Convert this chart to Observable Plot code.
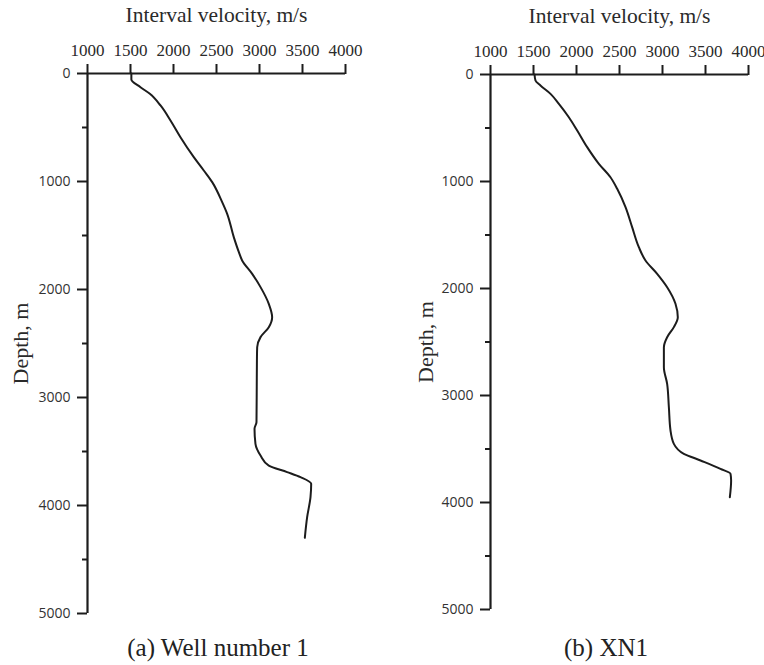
<!DOCTYPE html>
<html>
<head>
<meta charset="utf-8">
<script src="https://cdn.jsdelivr.net/npm/d3@7"></script>
<script src="https://cdn.jsdelivr.net/npm/@observablehq/plot@0.6"></script>
<style>
  html, body { margin: 0; padding: 0; background: #fff; }
  #wrap { position: relative; width: 764px; height: 665px; overflow: hidden; }
  .panel { position: absolute; top: 0; }
  .panel g[aria-label="x-axis tick label"] text { font-family: "Liberation Serif", "Times New Roman", serif; }
  .panel g[aria-label="y-axis tick label"] text { font-family: "Open Sans", "Noto Sans", sans-serif; }
  .cap { position: absolute; top: 634px; font-family: "Liberation Serif", "Times New Roman", serif; font-size: 25px; color: #222; white-space: nowrap; transform: translateX(-50%); }
</style>
</head>
<body>
<div id="wrap"></div>
<script>
// ---- data ----
const xTitle = "Interval velocity, m/s";
const yTitle = "Depth, m";
const xTicks = [1000, 1500, 2000, 2500, 3000, 3500, 4000];
const yTicks = [0, 1000, 2000, 3000, 4000, 5000];
const yMinorTicks = [500, 1500, 2500, 3500, 4500];
const captions = ["(a) Well number 1", "(b) XN1"];

const depth1 = [0, 55, 127, 188, 296, 435, 590, 775, 898, 1006, 1191, 1299, 1515, 1654, 1731, 1855, 1978, 2133, 2256, 2349, 2441, 2534, 2660, 2900, 3228, 3290, 3429, 3537, 3630, 3691, 3738, 3799, 3923, 4108, 4299];
const vel1   = [1510, 1510, 1616, 1725, 1849, 1965, 2081, 2236, 2352, 2450, 2566, 2624, 2701, 2760, 2798, 2915, 3012, 3108, 3147, 3108, 3012, 2973, 2970, 2968, 2965, 2942, 2953, 3012, 3108, 3321, 3477, 3601, 3593, 3554, 3527];

const depth2 = [0, 56, 103, 181, 274, 399, 523, 679, 835, 960, 1068, 1240, 1427, 1614, 1738, 1863, 1988, 2143, 2268, 2361, 2455, 2548, 2735, 2891, 3109, 3327, 3452, 3545, 3607, 3685, 3732, 3794, 3950];
const vel2   = [1512, 1523, 1581, 1698, 1795, 1911, 2008, 2124, 2260, 2395, 2473, 2570, 2647, 2725, 2802, 2938, 3054, 3151, 3178, 3132, 3054, 3016, 3016, 3054, 3074, 3093, 3132, 3248, 3442, 3674, 3791, 3798, 3783];

const ink = "#1c1c1c";
const serif = "'Liberation Serif', 'Times New Roman', serif";

function panel(depth, vel, m) {
  const data = depth.map((d, i) => ({d, v: vel[i]}));
  return Plot.plot({
    width: 382,
    height: 625,
    marginLeft: m.left,
    marginRight: m.right,
    marginTop: m.top,
    marginBottom: m.bottom,
    style: {background: "transparent", overflow: "visible", color: ink},
    x: {domain: [1000, 4000], axis: null},
    y: {domain: [0, 5000], reverse: true, axis: null},
    marks: [
      Plot.axisX({anchor: "top", ticks: xTicks, tickSize: 10, tickPadding: 8, tickFormat: d => String(d),
        fontSize: 17, strokeWidth: 2, label: null, fill: "#2a2a2a"}),
      Plot.axisY({anchor: "left", ticks: yTicks, tickSize: 10, tickPadding: 7, tickFormat: d => String(d),
        fontSize: 14, strokeWidth: 2, label: null, fill: "#333"}),
      Plot.axisY({anchor: "left", ticks: yMinorTicks, tickSize: 5, text: null, strokeWidth: 2, label: null}),
      Plot.ruleX([1000], {stroke: ink, strokeWidth: 2.2}),
      Plot.ruleY([0], {stroke: ink, strokeWidth: 2.2}),
      Plot.line(data, {x: "v", y: "d", stroke: ink, strokeWidth: 2, curve: "monotone-y"}),
      Plot.text([xTitle], {frameAnchor: "top", lineAnchor: "middle", dy: -58, fontSize: 21.5, fontFamily: serif, fill: "#2a2a2a"}),
      Plot.text([yTitle], {frameAnchor: "left", textAnchor: "middle", lineAnchor: "middle", dx: m.ylab, rotate: -90, fontSize: 22, fontFamily: serif, fill: "#2a2a2a"})
    ]
  });
}

const wrap = document.getElementById("wrap");
const p1 = panel(depth1, vel1, {left: 87, right: 37, top: 73, bottom: 12, ylab: -67});
p1.classList.add("panel"); p1.style.left = "0px";
const p2 = panel(depth2, vel2, {left: 108, right: 16, top: 74, bottom: 16, ylab: -65});
p2.classList.add("panel"); p2.style.left = "382px";
wrap.appendChild(p1);
wrap.appendChild(p2);

const capX = [218, 606];
captions.forEach((c, i) => {
  const el = document.createElement("div");
  el.className = "cap";
  el.style.left = capX[i] + "px";
  el.textContent = c;
  wrap.appendChild(el);
});
</script>
</body>
</html>
